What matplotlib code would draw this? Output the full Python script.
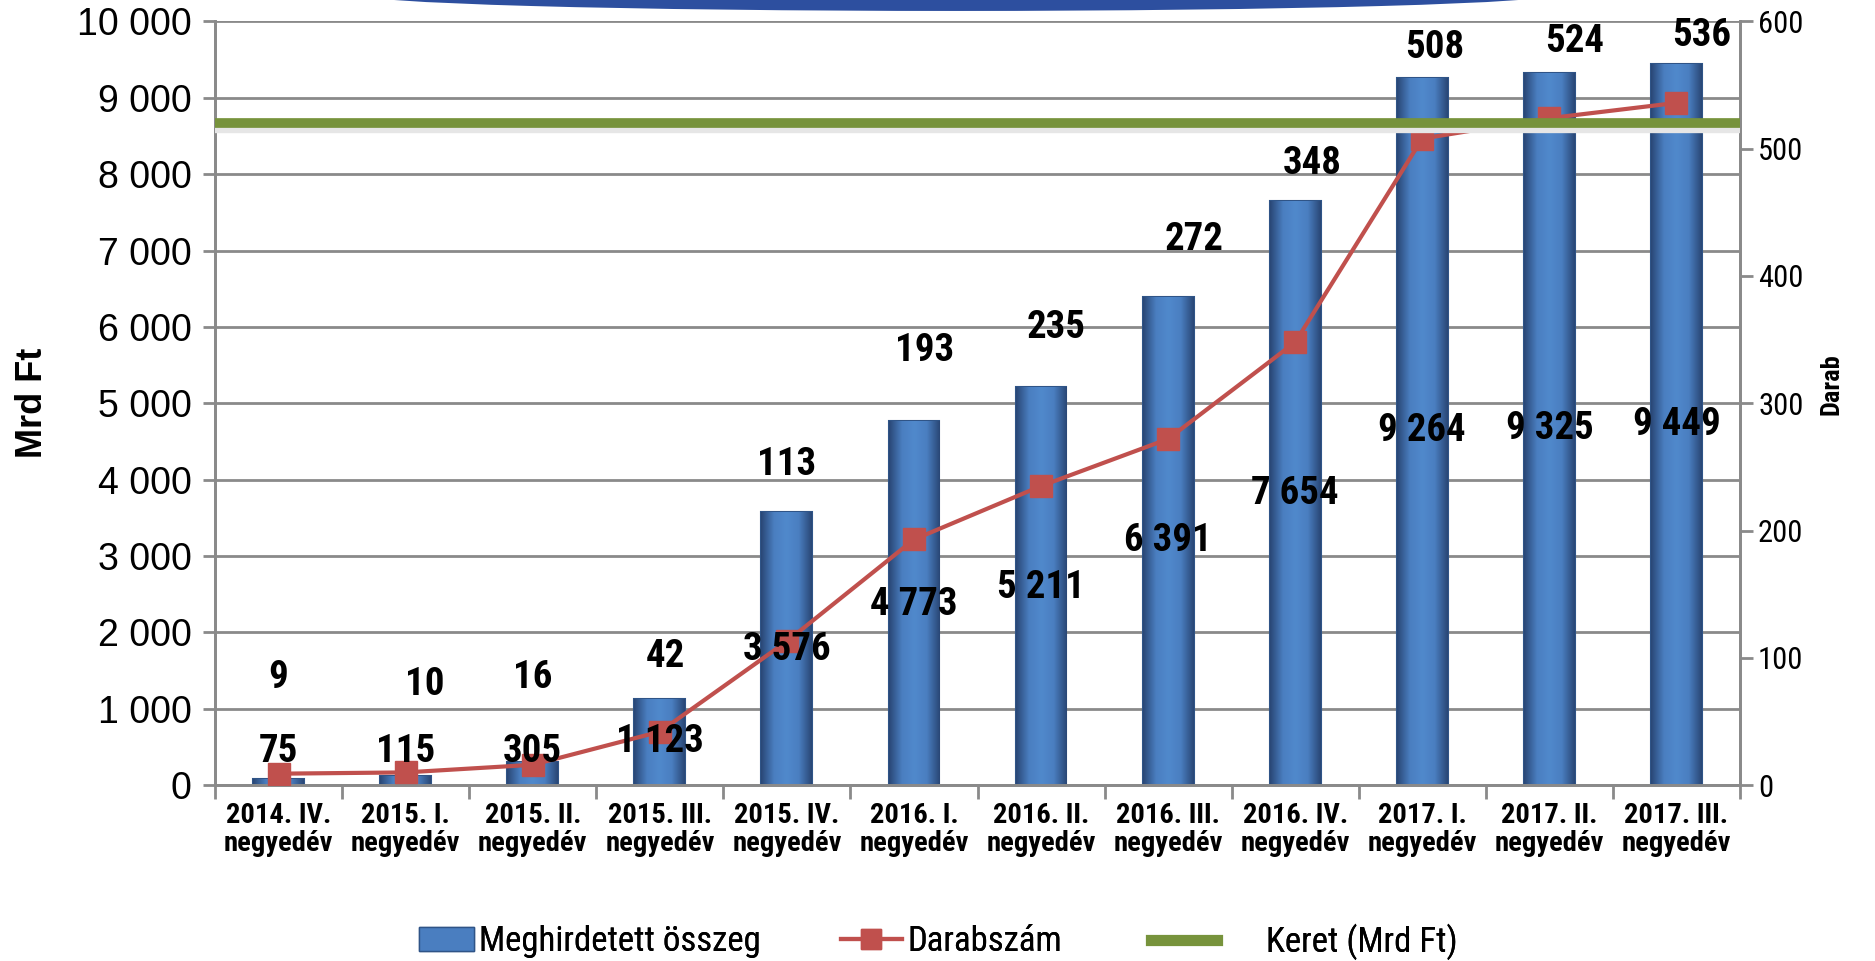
import numpy as np
import matplotlib
matplotlib.use("Agg")
from matplotlib import pyplot as plt
from matplotlib import font_manager
from matplotlib.patches import Ellipse, Patch
from matplotlib.lines import Line2D
from matplotlib.colors import LinearSegmentedColormap
import matplotlib.transforms as mtransforms

# keskeny betu kell (arial narrow-szeru), az elso ami megvan
installed = {f.name for f in font_manager.fontManager.ttflist}
jeloltek = ["Liberation Sans Narrow", "Arial Narrow", "Roboto Condensed", "Archivo Narrow",
            "PT Sans Narrow", "Open Sans Condensed", "Sofia Sans Condensed", "Asap Condensed"]
betu = [f for f in jeloltek if f in installed][:1]
plt.rcParams['font.family'] = betu + ['DejaVu Sans']
arial = ['Liberation Sans', 'DejaVu Sans']  # bal tengely szamaihoz

negyedev = ["2014. IV.", "2015. I.", "2015. II.", "2015. III.", "2015. IV.", "2016. I.",
            "2016. II.", "2016. III.", "2016. IV.", "2017. I.", "2017. II.", "2017. III."]
osszeg = [75, 115, 305, 1123, 3576, 4773, 5211, 6391, 7654, 9264, 9325, 9449]  # Mrd Ft
darab = [9, 10, 16, 42, 113, 193, 235, 272, 348, 508, 524, 536]
keret = 8670  # Mrd Ft

# label helyek (Mrd Ft skalan), ahogy az excel rakta
osszeg_lab_y = [440, 440, 440, 565, 1770, 2370, 2590, 3200, 3820, 4640, 4670, 4720]
darab_lab_y = [1410, 1320, 1410, 1680, 4200, 5690, 5990, 7150, 8140, 9660, 9740, 9810]
darab_lab_dx = [0, 0.15, 0, 0.04, 0, 0.08, 0.12, 0.2, 0.13, 0.1, 0.2, 0.2]

def ezres(v):
    return f"{int(v):,}".replace(",", " ")

fig = plt.figure(figsize=(18.75, 9.61), dpi=100)
ax1 = fig.add_axes([0.1147, 0.183, 0.8133, 0.7947])
ax2 = ax1.twinx()

x = np.arange(len(negyedev))
bars = ax1.bar(x, osszeg, width=0.4, color="#4a7ec0", edgecolor="#2f5487", linewidth=1.5, zorder=2)

# excel-es "domboru" oszlop: vizszintes szinatmenet az oszlopra vagva
cm = LinearSegmentedColormap.from_list("oszlop", ["#2a4877", "#4a7ec0", "#5089cc", "#4a7ec0", "#2a4877"])
grad = np.linspace(0, 1, 64).reshape(1, -1)
for b in bars:
    x0, w, h = b.get_x(), b.get_width(), b.get_height()
    im = ax1.imshow(grad, cmap=cm, aspect="auto", extent=(x0, x0 + w, 0, h), zorder=2.1)
    im.set_clip_path(b)

ax1.set_xlim(-0.5, len(negyedev) - 0.5)
ax1.set_ylim(0, 10000)
ax1.set_yticks(np.arange(0, 10001, 1000))
ax1.set_yticklabels([ezres(v) for v in np.arange(0, 10001, 1000)], fontsize=27, family=arial)
ax1.grid(axis="y", color="#8a8a8a", linewidth=2, zorder=0)
ax1.set_axisbelow(True)
ax1.set_xticks(x)
ax1.set_xticklabels([n + "\nnegyedév" for n in negyedev], fontsize=20.5, fontweight="bold",
                    linespacing=1.05)
ax1.set_xticks(np.arange(-0.5, len(negyedev)), minor=True)
ax1.tick_params(axis="x", which="major", length=0, pad=12)
ax1.tick_params(axis="x", which="minor", length=10, width=2, color="#8a8a8a")
ax1.tick_params(axis="y", length=9, width=2, color="#8a8a8a", pad=8)
ax1.set_ylabel("Mrd Ft", fontsize=26, fontweight="bold", family=arial)
ax1.yaxis.set_label_coords(-0.108, 0.5)

ax2.plot(x, darab, color="#c0504d", linewidth=3, marker="s", markersize=16, zorder=3)
ax2.set_ylim(0, 600)
ax2.set_yticks(np.arange(0, 601, 100))
ax2.set_yticklabels([str(v) for v in range(0, 601, 100)], fontsize=22)
ax2.tick_params(axis="y", length=9, width=2, color="#8a8a8a", pad=4)
ax2.set_ylabel("Darab", fontsize=19, fontweight="bold")
ax2.yaxis.set_label_coords(1.052, 0.525)

for ax in (ax1, ax2):
    for s in ax.spines.values():
        s.set_color("#8a8a8a")
        s.set_linewidth(2)
    ax.spines["top"].set_visible(False)

# keret vonal (halvany arnyekkal) a ket tengely folott
tr = mtransforms.blended_transform_factory(ax2.transAxes, ax1.transData)
ax2.plot([0, 1], [keret - 80, keret - 80], transform=tr, color="#e6e6e6", linewidth=6, zorder=4)
ax2.plot([0, 1], [keret, keret], transform=tr, color="#77933c", linewidth=7, zorder=5,
         solid_capstyle="butt")

for i in range(len(negyedev)):
    ax2.text(x[i], osszeg_lab_y[i], ezres(osszeg[i]), transform=ax1.transData,
             ha="center", va="center", fontsize=28, fontweight="bold", zorder=6)
    ax2.text(x[i] + darab_lab_dx[i], darab_lab_y[i], str(darab[i]), transform=ax1.transData,
             ha="center", va="center", fontsize=28, fontweight="bold", zorder=6)

# kek iv a dia tetejen
fig.patches.append(Ellipse((0.51, 1.0061), 0.64, 0.035, transform=fig.transFigure,
                           facecolor="#2d4f9f", edgecolor="none", zorder=0))

jelmagyarazat = [
    (Patch(facecolor="#4a7ec0", edgecolor="#2f5487"), "Meghirdetett összeg", 0.2233, 1.6, 0.15),
    (Line2D([], [], color="#c0504d", linewidth=3, marker="s", markersize=14), "Darabszám",
     0.4485, 1.75, 0.15),
    (Line2D([], [], color="#77933c", linewidth=8), "Keret (Mrd Ft)", 0.614, 1.9, 1.4),
]
for h, szoveg, lx, hl, pad in jelmagyarazat:
    lg = fig.legend([h], [szoveg], loc="center left", bbox_to_anchor=(lx, 0.02),
                    frameon=False, fontsize=25, handlelength=hl, handletextpad=pad,
                    borderpad=0, borderaxespad=0)
    fig.add_artist(lg)

fig.savefig("out.png")
